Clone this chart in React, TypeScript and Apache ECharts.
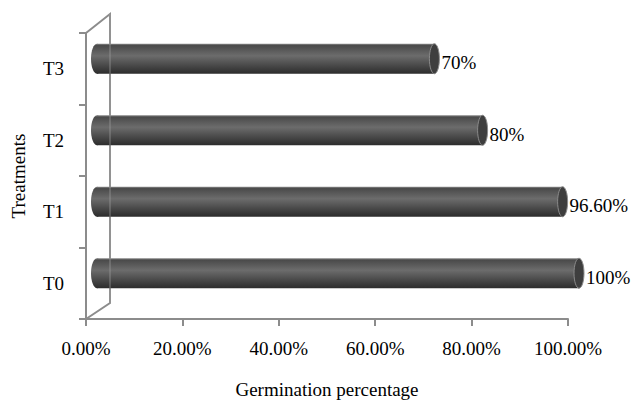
import React, { useEffect, useRef } from "react";
import * as echarts from "echarts";

const categories = ["T0", "T1", "T2", "T3"];
const germination = [100, 96.6, 80, 70];
const valueLabels = ["100%", "96.60%", "80%", "70%"];
const xTicks = [0, 20, 40, 60, 80, 100];

const FONT = "'Liberation Serif', 'Times New Roman', serif";
const FS = 19;
const DX = 11;
const DY = -10;
const BAR_H = 30;
const CAP_RX = 5;

export default function App() {
  const ref = useRef<HTMLDivElement>(null);
  useEffect(() => {
    if (!ref.current) return;
    const chart = echarts.init(ref.current, undefined, { renderer: "svg" });
    const bodyFill = new echarts.graphic.LinearGradient(0, 0, 0, 1, [
      { offset: 0, color: "#8a8a8a" },
      { offset: 0.06, color: "#4a4a4a" },
      { offset: 0.4, color: "#6c6c6c" },
      { offset: 0.75, color: "#464646" },
      { offset: 1, color: "#2c2c2c" },
    ]);
    const option: any = {
      animation: false,
      textStyle: { fontFamily: FONT },
      grid: { left: 86, right: 66, top: 33, bottom: 81, containLabel: false, outerBoundsMode: "none" },
      xAxis: {
        type: "value",
        min: xTicks[0],
        max: xTicks[xTicks.length - 1],
        interval: 20,
        name: "Germination percentage",
        nameLocation: "middle",
        nameGap: 61,
        nameTextStyle: { fontFamily: FONT, fontSize: FS, color: "#000" },
        axisLine: { show: true, lineStyle: { color: "#8c8c8c", width: 2 } },
        axisTick: { show: true, length: 7, lineStyle: { color: "#8c8c8c", width: 2 } },
        axisLabel: {
          fontFamily: FONT,
          fontSize: FS,
          color: "#000",
          margin: 20,
          formatter: (v: number) => v.toFixed(2) + "%",
        },
        splitLine: { show: false },
      },
      yAxis: {
        type: "category",
        data: categories,
        name: "Treatments",
        nameLocation: "middle",
        nameGap: 58,
        nameRotate: 90,
        nameTextStyle: { fontFamily: FONT, fontSize: FS, color: "#000" },
        axisLine: { show: true, lineStyle: { color: "#8c8c8c", width: 2 } },
        axisTick: { show: true, length: 7, lineStyle: { color: "#8c8c8c", width: 2 } },
        axisLabel: { fontFamily: FONT, fontSize: FS, color: "#000", margin: 22 },
      },
      series: [
        {
          type: "custom",
          z: 1,
          silent: true,
          clip: false,
          data: [0],
          renderItem: (params: any, api: any) => {
            const cs = params.coordSys;
            const x = cs.x;
            const top = cs.y;
            const bottom = cs.y + cs.height;
            return {
              type: "polyline",
              shape: {
                points: [
                  [x, top],
                  [x + 24, top - 19],
                  [x + 24, bottom - 16],
                  [x, bottom],
                ],
              },
              style: { stroke: "#8c8c8c", lineWidth: 2, fill: "none" },
            };
          },
        },
        {
          type: "custom",
          z: 2,
          clip: false,
          data: germination.map((v, i) => [v, i]),
          renderItem: (params: any, api: any) => {
            const v = api.value(0);
            const idx = api.value(1);
            const p0 = api.coord([0, idx]);
            const p1 = api.coord([v, idx]);
            const x0 = p0[0] + DX;
            const x1 = p1[0] + DX;
            const cy = p0[1] + DY;
            const ry = BAR_H / 2;
            return {
              type: "group",
              children: [
                {
                  type: "ellipse",
                  shape: { cx: x0, cy, rx: CAP_RX + 1, ry },
                  style: { fill: bodyFill },
                },
                {
                  type: "rect",
                  shape: { x: x0, y: cy - ry, width: x1 - x0, height: BAR_H },
                  style: { fill: bodyFill },
                },
                {
                  type: "ellipse",
                  shape: { cx: x1, cy, rx: CAP_RX, ry },
                  style: { fill: "#3e3e3e", stroke: "#8a8a8a", lineWidth: 1 },
                },
                {
                  type: "text",
                  style: {
                    x: x1 + CAP_RX + 2,
                    y: cy + 4,
                    text: valueLabels[params.dataIndex],
                    fontFamily: FONT,
                    fontSize: FS,
                    fill: "#000",
                    verticalAlign: "middle",
                    align: "left",
                  },
                },
              ],
            };
          },
        },
        {
          type: "custom",
          z: 3,
          silent: true,
          clip: false,
          data: [0],
          renderItem: (params: any, api: any) => {
            const cs = params.coordSys;
            const x = cs.x + 24;
            return {
              type: "line",
              shape: { x1: x, y1: cs.y - 19, x2: x, y2: cs.y + cs.height - 16 },
              style: { stroke: "#a0a0a0", lineWidth: 1.5, opacity: 0.45 },
            };
          },
        },
      ],
    };
    chart.setOption(option);
    return () => chart.dispose();
  }, []);
  return (
    <div
      ref={ref}
      style={{ position: "fixed", left: 0, top: 0, width: 634, height: 400, background: "#fff" }}
    />
  );
}
